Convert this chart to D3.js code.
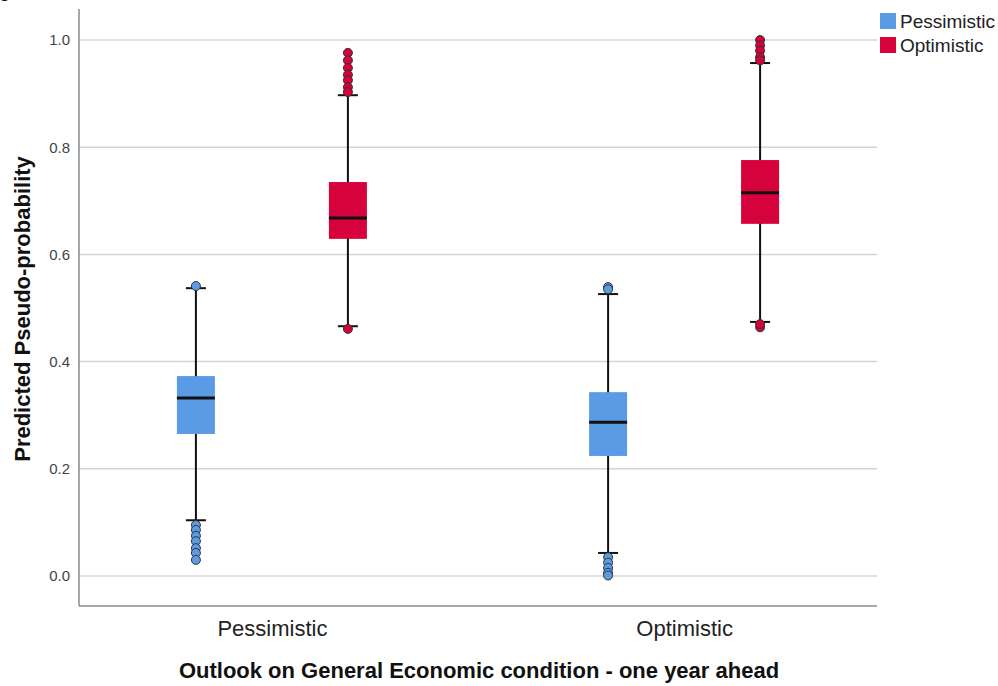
<!DOCTYPE html>
<html>
<head>
<meta charset="utf-8">
<script src="https://cdn.jsdelivr.net/npm/d3@7"></script>
<style>
  html, body { margin: 0; padding: 0; background: #fff; }
  svg { display: block; font-family: Arial, "Liberation Sans", sans-serif; }
</style>
</head>
<body>
<svg id="chart" width="998" height="686"></svg>
<script>
// Outlook groups on the x axis and the two predicted categories within each
const categories = ["Pessimistic", "Optimistic"];
const series = ["Pessimistic", "Optimistic"];
const seriesColors = ["#5B9BE5", "#D5023C"];

// Box statistics per [category][series]: lower whisker, Q1, median, Q3, upper whisker
const whiskerLow = [[0.104, 0.466], [0.043, 0.474]];
const q1 = [[0.265, 0.629], [0.224, 0.657]];
const median = [[0.332, 0.668], [0.287, 0.715]];
const q3 = [[0.373, 0.735], [0.343, 0.776]];
const whiskerHigh = [[0.537, 0.897], [0.526, 0.957]];

// Outlying cases per [category][series]
const outliers = [
  [
    [0.541, 0.095, 0.086, 0.075, 0.065, 0.052, 0.043, 0.030],
    [0.976, 0.962, 0.948, 0.935, 0.925, 0.912, 0.903, 0.461]
  ],
  [
    [0.539, 0.535, 0.035, 0.025, 0.015, 0.006, 0.001],
    [1.000, 0.990, 0.980, 0.968, 0.962, 0.464, 0.470]
  ]
];

const yTicks = [0.0, 0.2, 0.4, 0.6, 0.8, 1.0];

const svg = d3.select("#chart");
const plotLeft = 79, plotRight = 877, plotTop = 9, plotBottom = 606;

const y = d3.scaleLinear().domain([0, 1]).range([576, 40]);
const x0 = d3.scalePoint().domain(categories).range([plotLeft, plotRight]).padding(0.468);
const x1 = d3.scalePoint().domain(series).range([-76, 76]);
const boxW = 38, capW = 20;

// Horizontal gridlines
svg.append("g").selectAll("line").data(yTicks).join("line")
  .attr("x1", plotLeft).attr("x2", plotRight)
  .attr("y1", d => y(d)).attr("y2", d => y(d))
  .attr("stroke", "#d4d4d4").attr("stroke-width", 1.5);

// Y axis
const yAxis = svg.append("g").attr("transform", `translate(${plotLeft},0)`)
  .call(d3.axisLeft(y).tickValues(yTicks).tickFormat(d3.format(".1f")).tickSize(0).tickPadding(9));
yAxis.select(".domain").remove();
yAxis.selectAll("text").attr("fill", "#444").style("font-size", "15px");

// Axis frame lines
svg.append("line").attr("x1", plotLeft).attr("x2", plotLeft).attr("y1", plotTop).attr("y2", plotBottom)
  .attr("stroke", "#8a8a8a").attr("stroke-width", 1.5);
svg.append("line").attr("x1", plotLeft).attr("x2", plotRight).attr("y1", plotBottom).attr("y2", plotBottom)
  .attr("stroke", "#8a8a8a").attr("stroke-width", 1.5);

// X category labels
const xAxis = svg.append("g").attr("transform", `translate(0,${plotBottom})`)
  .call(d3.axisBottom(x0).tickSize(0).tickPadding(14));
xAxis.select(".domain").remove();
xAxis.selectAll("text").attr("fill", "#222").style("font-size", "22px");

// Boxes
const boxes = [];
categories.forEach((c, i) => series.forEach((s, j) => boxes.push({
  c, s, i, j,
  lo: whiskerLow[i][j], q1: q1[i][j], med: median[i][j], q3: q3[i][j], hi: whiskerHigh[i][j],
  out: outliers[i][j]
})));

const g = svg.append("g").selectAll("g").data(boxes).join("g")
  .attr("transform", d => `translate(${x0(d.c) + x1(d.s)},0)`);

g.append("line").attr("x1", 0).attr("x2", 0)
  .attr("y1", d => y(d.hi)).attr("y2", d => y(d.lo))
  .attr("stroke", "#111").attr("stroke-width", 2);
g.selectAll(".cap").data(d => [d.lo, d.hi]).join("line")
  .attr("class", "cap")
  .attr("x1", -capW / 2).attr("x2", capW / 2)
  .attr("y1", v => y(v)).attr("y2", v => y(v))
  .attr("stroke", "#111").attr("stroke-width", 2);
g.append("rect")
  .attr("x", -boxW / 2).attr("width", boxW)
  .attr("y", d => y(d.q3)).attr("height", d => y(d.q1) - y(d.q3))
  .attr("fill", d => seriesColors[d.j]);
g.append("line").attr("x1", -boxW / 2).attr("x2", boxW / 2)
  .attr("y1", d => y(d.med)).attr("y2", d => y(d.med))
  .attr("stroke", "#111").attr("stroke-width", 3);
g.selectAll("circle").data(d => d.out.map(v => ({ v, j: d.j }))).join("circle")
  .attr("cx", 0).attr("cy", o => y(o.v)).attr("r", 4.5)
  .attr("fill", o => seriesColors[o.j])
  .attr("stroke", "#333").attr("stroke-width", 1);

// Axis titles
svg.append("text")
  .attr("transform", "translate(30,309) rotate(-90)")
  .attr("text-anchor", "middle")
  .style("font-size", "22px").style("font-weight", "bold").attr("fill", "#111")
  .text("Predicted Pseudo-probability");
svg.append("text")
  .attr("x", 479).attr("y", 678)
  .attr("text-anchor", "middle")
  .style("font-size", "22px").style("font-weight", "bold").attr("fill", "#111")
  .text("Outlook on General Economic condition - one year ahead");

// Legend
const legend = svg.append("g").attr("transform", "translate(880,13)");
const items = legend.selectAll("g").data(series).join("g")
  .attr("transform", (d, i) => `translate(0,${i * 24})`);
items.append("rect").attr("width", 16).attr("height", 16)
  .attr("fill", (d, i) => seriesColors[i]);
items.append("text").attr("x", 20).attr("y", 15)
  .style("font-size", "19px").attr("fill", "#222").text(d => d);

// Fragment of the caption line above the chart
svg.append("text").attr("x", -1).attr("y", -3)
  .style("font-size", "18px").style("font-weight", "bold").attr("fill", "#111").text("g");
</script>
</body>
</html>
